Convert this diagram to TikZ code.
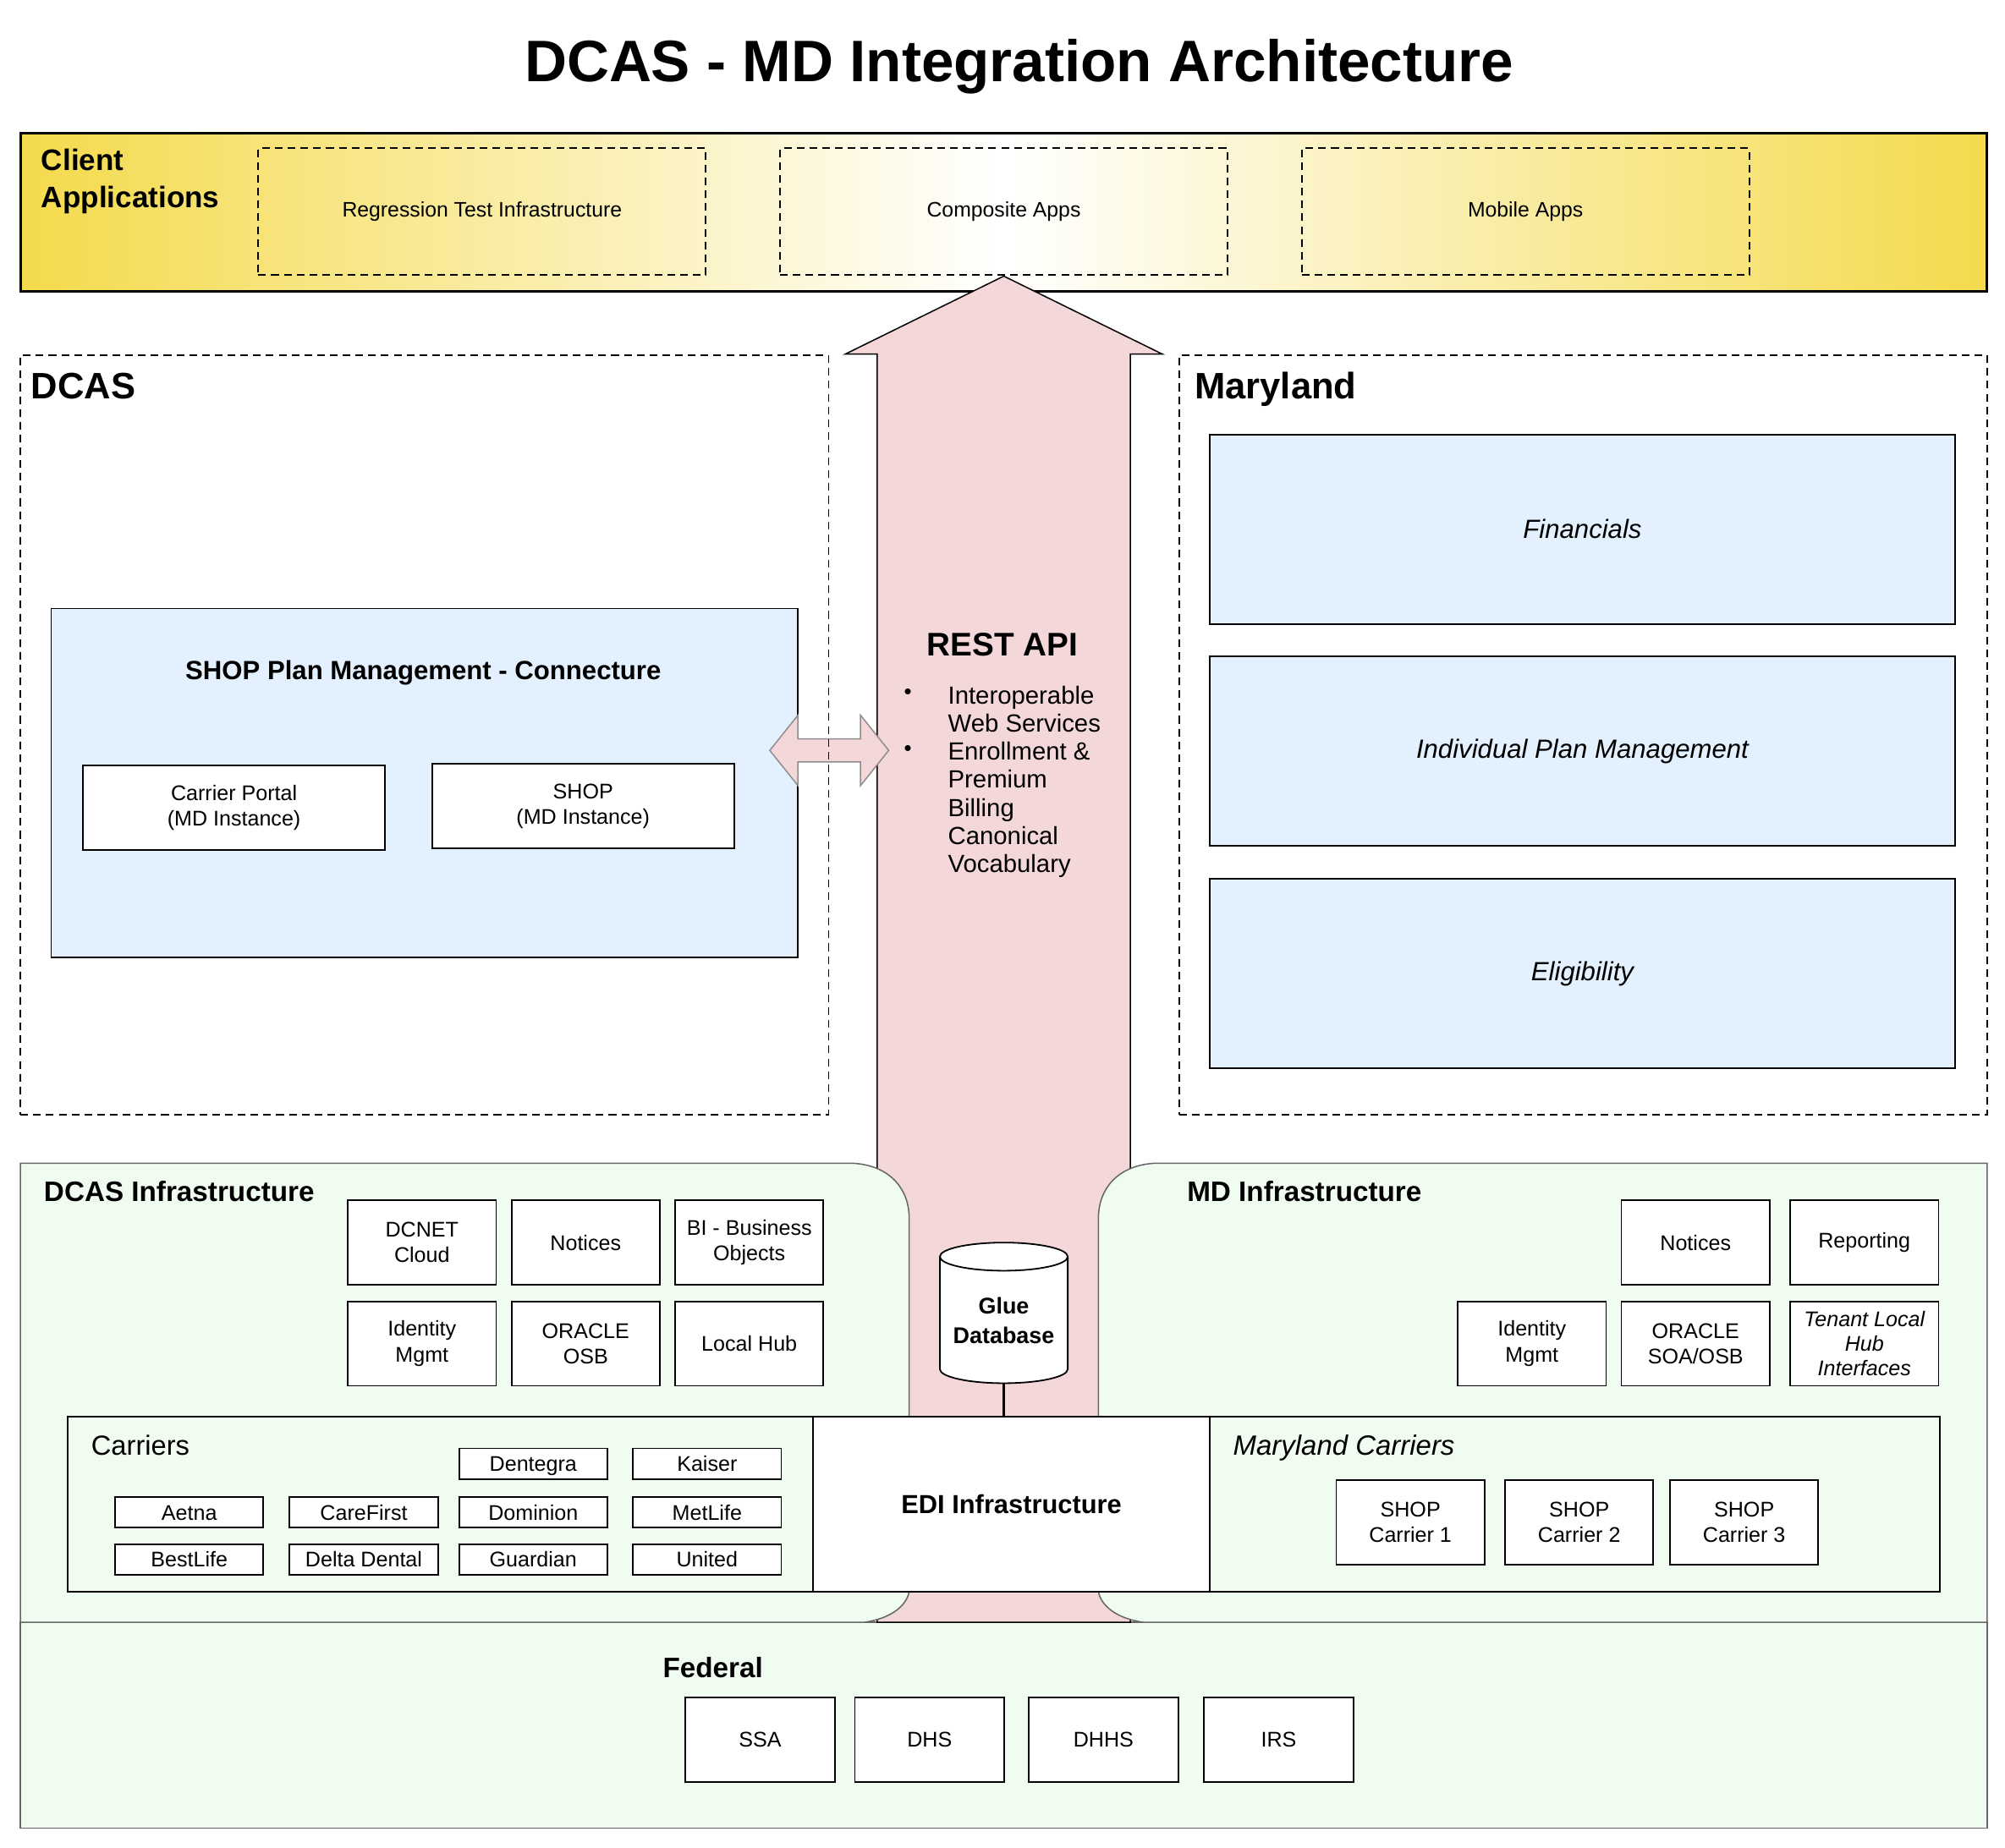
\documentclass[tikz,border=0pt]{standalone}
\usepackage{fontspec}
\setmainfont{Liberation Sans}
\usetikzlibrary{shapes.geometric}
\definecolor{ylw}{HTML}{F4DA4C}
\definecolor{pnk}{HTML}{F4D7D8}
\definecolor{lblue}{HTML}{E3F0FD}
\definecolor{lgreen}{HTML}{F1FCF1}
\newcommand\fsz[2]{\fontsize{#1}{#2}\selectfont}
\begin{document}
\begin{tikzpicture}[x=0.5pt,y=-0.5pt,
  box/.style={draw, fill=white, line width=0.6pt, inner sep=0pt, align=center, font=\fsz{8.3}{10}},
  ibox/.style={box, minimum width=58pt, minimum height=33pt},
  cbox/.style={box, minimum width=58pt, minimum height=12pt, text height=7.5pt, text depth=1.6pt},
  fedbox/.style={box, minimum width=58.5pt, minimum height=33pt},
  dashbox/.style={draw, dash pattern=on 3pt off 2pt, line width=0.6pt, inner sep=0pt},
  appbox/.style={dashbox, minimum width=175pt, minimum height=49.5pt, font=\fsz{8.2}{10}},
  mdbox/.style={draw, fill=lblue, line width=0.6pt, minimum width=291.5pt, minimum height=74pt, inner sep=0pt, font=\fsz{10.3}{12}\itshape},
  lbl/.style={anchor=base west, inner sep=0pt},
  panel/.style={fill=lgreen, draw=black!60, line width=0.5pt},
  pinkshape/.style={fill=pnk, draw=black, line width=0.5pt},
  bullet/.style={font=\fsz{8.5}{10}, inner sep=0pt},
]
\useasboundingbox (0,0) rectangle (1568,1445.6);
% title
\node[anchor=base, inner sep=0pt, font=\fsz{22.9}{26}\bfseries] (title) at (797,64) {DCAS - MD Integration Architecture};
% client band
\node[draw, line width=1pt, minimum width=769pt, minimum height=62pt, left color=ylw, right color=ylw, middle color=white, inner sep=0pt] (client) at (785,166) {};
\node[anchor=north west, inner sep=0pt, align=left, font=\fsz{11.6}{14.5}\bfseries] (clientlbl) at (32,116) {Client\\Applications};
\node[appbox] (regr) at (377,165.5) {Regression Test Infrastructure};
\node[appbox] (comp) at (785,165.5) {Composite Apps};
\node[appbox] (mobile) at (1193,165.5) {Mobile Apps};
% federal panel
\draw[panel] (16,1269) rectangle (1554,1430);
% REST arrow
\draw[pinkshape] (686,1269) -- (686,277) -- (661,277) -- (785,216) -- (909,277) -- (884,277) -- (884,1269) -- cycle;
\node[font=\fsz{12.8}{15}\bfseries, inner sep=0pt] (rest) at (784,504) {REST API};
\node[anchor=north west, inner sep=0pt, align=left, font=\fsz{9.7}{11}] (restlist) at (741,536) {Interoperable\\Web Services\\Enrollment \&\\Premium\\Billing\\Canonical\\Vocabulary};
\node[bullet] (b1) at (710,543) {•};
\node[bullet] (b2) at (710,587) {•};
% SHOP plan management
\node[draw, fill=lblue, line width=0.6pt, minimum width=292pt, minimum height=136.5pt, inner sep=0pt] (shoppm) at (332,612.5) {};
\node[font=\fsz{10.3}{12}\bfseries, inner sep=0pt] (shoppmlbl) at (331,526) {SHOP Plan Management - Connecture};
\node[box, minimum width=118pt, minimum height=33pt] (portal) at (183,632) {Carrier Portal\\(MD Instance)};
\node[box, minimum width=118pt, minimum height=33pt] (shopmd) at (456,630.5) {SHOP\\(MD Instance)};
% double arrow
\draw[fill=pnk, draw=black!45, line width=0.5pt] (602,587) -- (624,559.5) -- (624,578) -- (673,578) -- (673,559.5) -- (695,587) -- (673,614.5) -- (673,596) -- (624,596) -- (624,614.5) -- cycle;
% dashed regions
\node[dashbox, minimum width=316pt, minimum height=297pt] (dcas) at (332,575) {};
\node[dashbox, minimum width=316pt, minimum height=297pt] (maryland) at (1238,575) {};
\node[lbl, font=\fsz{14.4}{17}\bfseries] (dcaslbl) at (24,312) {DCAS};
\node[lbl, font=\fsz{14.4}{17}\bfseries] (mdlbl) at (934,312) {Maryland};
% Maryland boxes
\node[mdbox] (fin) at (1237.5,414) {Financials};
\node[mdbox] (ipm) at (1237.5,587.5) {Individual Plan Management};
\node[mdbox] (elig) at (1237.5,761.5) {Eligibility};
% infrastructure panels
\draw[panel] (16,910) -- (668,910) .. controls (696,912) and (711,930) .. (711,953) -- (711,1245) .. controls (709,1256) and (697,1266) .. (676,1269) -- (16,1269) -- cycle;
\draw[panel] (1554,910) -- (902,910) .. controls (874,912) and (859,930) .. (859,953) -- (859,1245) .. controls (861,1256) and (873,1266) .. (894,1269) -- (1554,1269) -- cycle;
\node[lbl, font=\fsz{11}{13}\bfseries] (dinfra) at (34,940) {DCAS Infrastructure};
\node[lbl, font=\fsz{11}{13}\bfseries] (minfra) at (928,940) {MD Infrastructure};
% DCAS infra boxes
\node[ibox] (dcnet) at (330,972) {DCNET\\Cloud};
\node[ibox] (dnot) at (458,972) {Notices};
\node[ibox] (bi) at (586,972) {BI - Business\\Objects};
\node[ibox] (did) at (330,1051) {Identity\\Mgmt};
\node[ibox] (dosb) at (458,1051) {ORACLE\\OSB};
\node[ibox] (lhub) at (586,1051) {Local Hub};
% MD infra boxes
\node[ibox] (mnot) at (1326,972) {Notices};
\node[ibox] (rep) at (1458,972) {Reporting};
\node[ibox] (mid) at (1198,1051) {Identity\\Mgmt};
\node[ibox] (msoa) at (1326,1051) {ORACLE\\SOA/OSB};
\node[ibox, font=\fsz{8.3}{9.5}\itshape] (tenant) at (1458,1051) {Tenant Local\\Hub\\Interfaces};
% glue database
\draw[fill=white, line width=0.6pt] (735,983) -- (735,1071) arc[start angle=180, end angle=0, x radius=50, y radius=11] -- (835,983);
\draw[fill=white, line width=0.6pt] (785,983) ellipse [x radius=50, y radius=11];
\node[inner sep=0pt, minimum width=50pt, minimum height=49pt, align=center, font=\fsz{8.9}{11.5}\bfseries] (glue) at (785,1033) {Glue\\Database};
% carriers row
\node[draw, fill=lgreen, line width=0.6pt, minimum width=291.5pt, minimum height=68.5pt, inner sep=0pt] (carriers) at (344.5,1176.5) {};
\node[draw, fill=lgreen, line width=0.6pt, minimum width=285.5pt, minimum height=68.5pt, inner sep=0pt] (mdcarriers) at (1231.5,1176.5) {};
\node[draw, fill=white, line width=0.6pt, minimum width=155pt, minimum height=68.5pt, inner sep=0pt, font=\fsz{10.2}{12}\bfseries] (edi) at (791,1176.5) {EDI Infrastructure};
\draw[line width=1pt] (glue.south) -- (glue.south |- edi.north);
\node[lbl, font=\fsz{10.8}{13}] (carrlbl) at (71,1138) {Carriers};
\node[lbl, font=\fsz{10.9}{13}\itshape] (mdcarrlbl) at (964,1138) {Maryland Carriers};
\node[cbox] (dentegra) at (417,1145) {Dentegra};
\node[cbox] (kaiser) at (553,1145) {Kaiser};
\node[cbox] (aetna) at (148,1183) {Aetna};
\node[cbox] (carefirst) at (284.5,1183) {CareFirst};
\node[cbox] (dominion) at (417,1183) {Dominion};
\node[cbox] (metlife) at (553,1183) {MetLife};
\node[cbox] (bestlife) at (148,1220) {BestLife};
\node[cbox] (delta) at (284.5,1220) {Delta Dental};
\node[cbox] (guardian) at (417,1220) {Guardian};
\node[cbox] (united) at (553,1220) {United};
\node[ibox] (sc1) at (1103,1191) {SHOP\\Carrier 1};
\node[ibox] (sc2) at (1235,1191) {SHOP\\Carrier 2};
\node[ibox] (sc3) at (1364,1191) {SHOP\\Carrier 3};
% federal
\node[lbl, font=\fsz{11}{13}\bfseries] (fedlbl) at (518,1312) {Federal};
\node[fedbox] (ssa) at (594.5,1361) {SSA};
\node[fedbox] (dhs) at (727,1361) {DHS};
\node[fedbox] (dhhs) at (863,1361) {DHHS};
\node[fedbox] (irs) at (1000,1361) {IRS};
\end{tikzpicture}
\end{document}
